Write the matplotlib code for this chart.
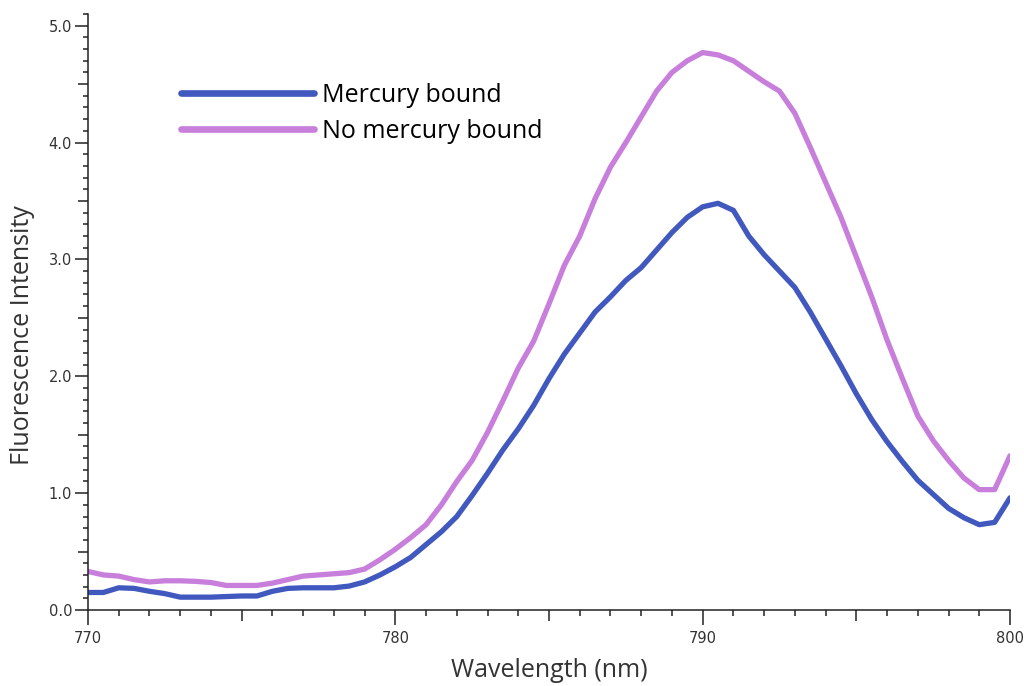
import numpy as np
import matplotlib.pyplot as plt

# === Daten ===
wavelength = [770.0, 770.5, 771.0, 771.5, 772.0, 772.5, 773.0, 773.5, 774.0, 774.5,
              775.0, 775.5, 776.0, 776.5, 777.0, 777.5, 778.0, 778.5, 779.0, 779.5,
              780.0, 780.5, 781.0, 781.5, 782.0, 782.5, 783.0, 783.5, 784.0, 784.5,
              785.0, 785.5, 786.0, 786.5, 787.0, 787.5, 788.0, 788.5, 789.0, 789.5,
              790.0, 790.5, 791.0, 791.5, 792.0, 792.5, 793.0, 793.5, 794.0, 794.5,
              795.0, 795.5, 796.0, 796.5, 797.0, 797.5, 798.0, 798.5, 799.0, 799.5,
              800.0]

mercury_bound = [0.15, 0.15, 0.19, 0.185, 0.16, 0.14, 0.11, 0.11, 0.11, 0.115,
                 0.12, 0.12, 0.16, 0.185, 0.19, 0.19, 0.19, 0.205, 0.24, 0.30,
                 0.37, 0.45, 0.56, 0.67, 0.80, 0.98, 1.17, 1.37, 1.55, 1.75,
                 1.98, 2.19, 2.37, 2.55, 2.68, 2.82, 2.93, 3.08, 3.23, 3.36,
                 3.45, 3.48, 3.42, 3.20, 3.04, 2.90, 2.76, 2.55, 2.32, 2.09,
                 1.85, 1.63, 1.44, 1.27, 1.11, 0.99, 0.87, 0.79, 0.73, 0.75,
                 0.96]

no_mercury = [0.33, 0.30, 0.29, 0.26, 0.24, 0.25, 0.25, 0.245, 0.235, 0.21,
              0.21, 0.21, 0.23, 0.26, 0.29, 0.30, 0.31, 0.32, 0.35, 0.43,
              0.52, 0.62, 0.73, 0.90, 1.10, 1.28, 1.52, 1.79, 2.07, 2.30,
              2.62, 2.95, 3.20, 3.52, 3.79, 4.00, 4.22, 4.44, 4.60, 4.70,
              4.77, 4.75, 4.70, 4.61, 4.52, 4.44, 4.25, 3.96, 3.66, 3.36,
              3.02, 2.68, 2.31, 1.98, 1.66, 1.45, 1.28, 1.13, 1.03, 1.03,
              1.32]

series_labels = ["Mercury bound", "No mercury bound"]
series_colors = ["#4159bf", "#c87fdc"]

x_major = [770, 780, 790, 800]
y_major = [0.0, 1.0, 2.0, 3.0, 4.0, 5.0]

# === Plot ===
fig = plt.figure(figsize=(10.24, 6.86), dpi=100)
ax = fig.add_axes([88 / 1024, 76 / 686, 922 / 1024, 596 / 686])

ax.plot(wavelength, mercury_bound, color=series_colors[0], linewidth=3.8,
        solid_capstyle="round", label=series_labels[0])
ax.plot(wavelength, no_mercury, color=series_colors[1], linewidth=3.8,
        solid_capstyle="round", label=series_labels[1])

ax.set_xlim(770, 800)
ax.set_ylim(0, 5.1)

for side in ["top", "right"]:
    ax.spines[side].set_visible(False)
for side in ["left", "bottom"]:
    ax.spines[side].set_linewidth(1.1)
    ax.spines[side].set_color("#222222")

# Ticks: major alle 5 (beschriftet nur alle 10), minor alle 1 / 0.1
ax.set_xticks(np.arange(770, 801, 5))
ax.set_xticklabels([str(v) if v in x_major else "" for v in range(770, 801, 5)])
ax.set_xticks(np.arange(770, 801, 1), minor=True)
ax.set_yticks(np.arange(0, 5.01, 0.5))
ax.set_yticklabels([f"{v:.1f}" if round(v, 1) in y_major else "" for v in np.arange(0, 5.01, 0.5)])
ax.set_yticks(np.arange(0, 5.11, 0.1), minor=True)

ax.tick_params(axis="both", which="both", direction="out", color="#222222",
               width=1.1, labelsize=10.5, labelcolor="#333333")
ax.tick_params(axis="x", which="major", length=11, pad=4)
ax.tick_params(axis="x", which="minor", length=4.5)
ax.tick_params(axis="y", which="major", length=9.5, pad=2)
ax.tick_params(axis="y", which="minor", length=3.8)

# mittlere Ticks bei 5er-Schritten kürzer
for t, v in zip(ax.xaxis.get_major_ticks(), range(770, 801, 5)):
    if v not in x_major:
        t.tick1line.set_markersize(8)
for t, v in zip(ax.yaxis.get_major_ticks(), np.arange(0, 5.01, 0.5)):
    if round(v, 1) not in y_major:
        t.tick1line.set_markersize(7.2)

ax.set_xlabel("Wavelength (nm)", fontsize=18, family="Open Sans", color="#333333", labelpad=9)
ax.set_ylabel("Fluorescence Intensity", fontsize=18, family="Open Sans", color="#333333")
ax.yaxis.set_label_coords(-0.057, 0.461)

leg = ax.legend(loc="upper left", bbox_to_anchor=(0.101, 0.885), frameon=False,
                borderpad=0, borderaxespad=0,
                handlelength=5.3, handletextpad=0.35, labelspacing=0.45,
                prop={"family": "Open Sans", "size": 18})
for line in leg.get_lines():
    line.set_linewidth(4.8)

plt.savefig("out.png", dpi=100)
